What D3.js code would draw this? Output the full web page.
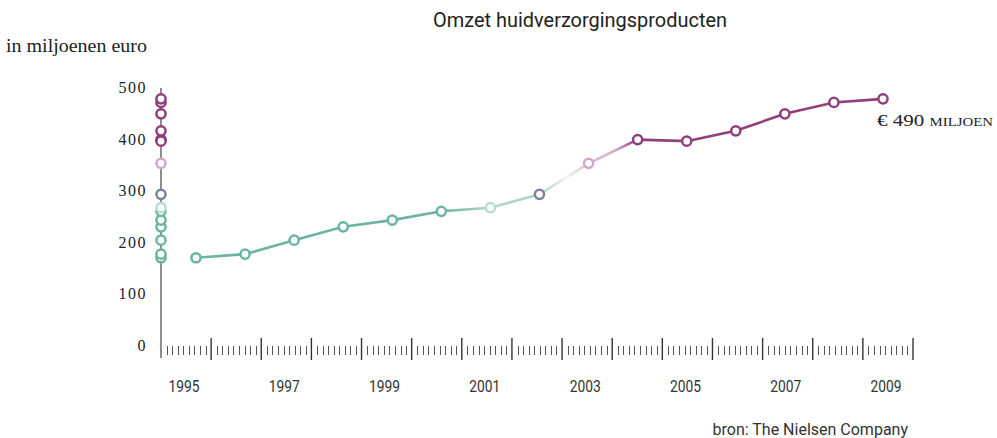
<!DOCTYPE html>
<html><head><meta charset="utf-8">
<script src="https://cdn.jsdelivr.net/npm/d3@7"></script>
<style>
html,body{margin:0;padding:0;background:#fff;}
svg{display:block;}
</style></head>
<body>
<svg id="chart" width="997" height="438"></svg>
<script>
const years = [1995,1996,1997,1998,1999,2000,2001,2002,2003,2004,2005,2006,2007,2008,2009];
const values = [171,178,205,231,244,261,268,294,354,400,397,417,450,472,479];
const pointColors = ["#6cb3a0","#6cb3a0","#6cb3a0","#6cb3a0","#6cb3a0","#6cb3a0","#b9dccf","#7a8298","#cfa9c6","#8f3f7c","#8f3f7c","#8f3f7c","#8f3f7c","#8f3f7c","#8f3f7c"];
const yTicks = [0,100,200,300,400,500];
const yearLabels = [1995,1997,1999,2001,2003,2005,2007,2009];
const title = "Omzet huidverzorgingsproducten";
const yTitle = "in miljoenen euro";
const endLabel = "€ 490 miljoen";
const source = "bron: The Nielsen Company";

const svg = d3.select("#chart");
const y = d3.scaleLinear().domain([0,500]).range([346,88]);
const xAxis = d3.scaleLinear().domain([1995,2010]).range([161,913]);
const xPt = d3.scaleLinear().domain([1995,2009]).range([196,883]);

const serif = "'Liberation Serif','DejaVu Serif',serif";
const narrow = "'Liberation Sans Narrow','Roboto','Liberation Sans',sans-serif";

// title
svg.append("text").attr("x",580).attr("y",27).attr("text-anchor","middle")
  .attr("font-family",narrow).attr("font-size",21).attr("fill","#222")
  .attr("textLength",294).attr("lengthAdjust","spacingAndGlyphs").text(title);
svg.append("text").attr("x",6).attr("y",52).attr("font-family",serif)
  .attr("font-size",18).attr("fill","#222")
  .attr("textLength",141).attr("lengthAdjust","spacingAndGlyphs").text(yTitle);

// y axis
svg.append("line").attr("x1",161).attr("x2",161).attr("y1",y(500)).attr("y2",358)
  .attr("stroke","#444").attr("stroke-width",1.2);
svg.append("g").selectAll("text").data(yTicks).join("text")
  .attr("x",147).attr("y",d=>y(d)+5).attr("text-anchor","end")
  .attr("font-family",serif).attr("font-size",16).attr("fill","#222")
  .attr("letter-spacing",1.5).text(d=>d);

// x ticks
const minor = [];
for (let yr=1995; yr<2010; yr++) for (let k=1;k<9;k++) minor.push(yr+k/9);
svg.append("g").selectAll("line").data(minor).join("line")
  .attr("x1",d=>Math.round(xAxis(d))+0.5).attr("x2",d=>Math.round(xAxis(d))+0.5)
  .attr("y1",346).attr("y2",355).attr("stroke","#555").attr("stroke-width",1);
svg.append("g").selectAll("line").data(d3.range(1996,2011)).join("line")
  .attr("x1",d=>xAxis(d)).attr("x2",d=>xAxis(d))
  .attr("y1",338).attr("y2",360).attr("stroke","#333").attr("stroke-width",1.4);
svg.append("g").selectAll("text").data(yearLabels).join("text")
  .attr("x",d=>xAxis(d+0.5)-2).attr("y",392).attr("text-anchor","middle")
  .attr("font-family",narrow).attr("font-size",17).attr("fill","#333")
  .attr("textLength",31).attr("lengthAdjust","spacingAndGlyphs").text(d=>d);

// gradient for line
const defs = svg.append("defs");
const grad = defs.append("linearGradient").attr("id","lg").attr("gradientUnits","userSpaceOnUse")
  .attr("x1",xPt(1995)).attr("x2",xPt(2009)).attr("y1",0).attr("y2",0);
const span = xPt(2009)-xPt(1995);
const off = yr => (xPt(yr)-xPt(1995))/span;
[[1995,"#6cb3a0"],[2000,"#6cb3a0"],[2001,"#b5d8cb"],[2002,"#add2c5"],[2002.55,"#f3f1f3"],[2003,"#d9bed2"],[2003.5,"#d2b3ca"],[2004,"#8f3f7c"],[2009,"#8f3f7c"]]
  .forEach(([yr,c])=>grad.append("stop").attr("offset",off(yr)).attr("stop-color",c));

const data = years.map((yr,i)=>({yr,v:values[i],c:pointColors[i]}));
svg.append("path").datum(data)
  .attr("d",d3.line().x(d=>xPt(d.yr)).y(d=>y(d.v)))
  .attr("fill","none").attr("stroke","url(#lg)").attr("stroke-width",2.6);

svg.append("g").selectAll("circle").data(data).join("circle")
  .attr("cx",d=>xPt(d.yr)).attr("cy",d=>y(d.v)).attr("r",4.6)
  .attr("fill","#fff").attr("stroke",d=>d.c).attr("stroke-width",2.5);

// dots on the axis
svg.append("g").selectAll("circle").data(data).join("circle")
  .attr("cx",161).attr("cy",d=>y(d.v)).attr("r",4.6)
  .attr("fill","#fff").attr("stroke",d=>d.c).attr("stroke-width",2.5);

svg.append("text").attr("x",877).attr("y",126).attr("font-family",serif)
  .attr("font-size",17).attr("fill","#222")
  .attr("textLength",116).attr("lengthAdjust","spacingAndGlyphs")
  .style("font-variant","small-caps").text(endLabel);

svg.append("text").attr("x",908).attr("y",435).attr("text-anchor","end")
  .attr("font-family",narrow).attr("font-size",16).attr("fill","#333").text(source);
</script>
</body></html>
